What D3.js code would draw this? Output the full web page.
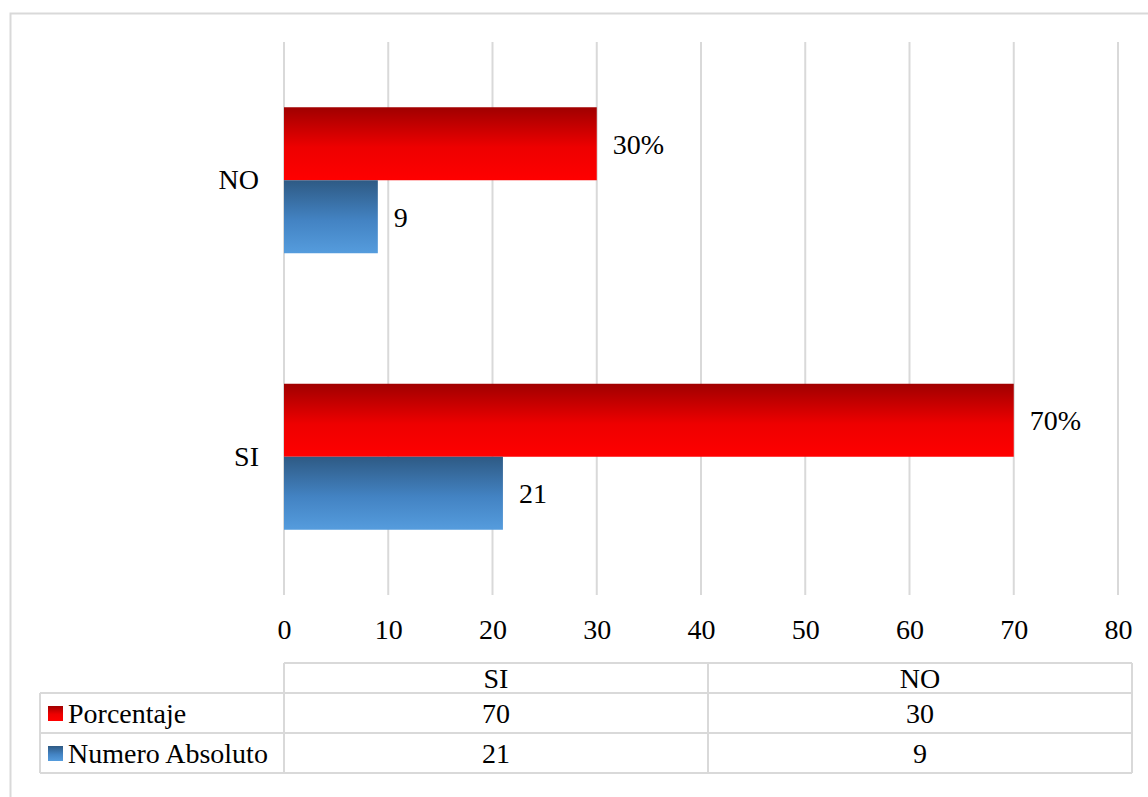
<!DOCTYPE html>
<html>
<head>
<meta charset="utf-8">
<script src="https://cdn.jsdelivr.net/npm/d3@7"></script>
<style>
  html, body { margin: 0; padding: 0; background: #fff; }
  svg { display: block; }
  svg text { font-family: "Liberation Serif", "Times New Roman", serif; }
</style>
</head>
<body>
<svg id="chart" width="1148" height="797"></svg>
<script>
// Categories (top to bottom) and series
const categories = ["NO", "SI"];
const seriesNames = ["Porcentaje", "Numero Absoluto"];
const porcentaje = [30, 70];
const numeroAbsoluto = [9, 21];
const tableColumns = ["SI", "NO"];
const xTicks = [0, 10, 20, 30, 40, 50, 60, 70, 80];

const svg = d3.select("#chart");
const gridColor = "#d9d9d9";
const fontSize = 28;
const serif = "'Liberation Serif', serif";

// Gradients for the bar fills
const defs = svg.append("defs");
function grad(id, stops) {
  const g = defs.append("linearGradient").attr("id", id)
    .attr("x1", 0).attr("y1", 0).attr("x2", 0).attr("y2", 1);
  stops.forEach(s => g.append("stop").attr("offset", s[0]).attr("stop-color", s[1]));
}
grad("gRed", [[0, "#a00000"], [0.55, "#ee0000"], [1, "#ff0000"]]);
grad("gBlue", [[0, "#2e5a84"], [0.55, "#4383c3"], [1, "#559cdd"]]);
const fills = ["url(#gRed)", "url(#gBlue)"];
const values = [porcentaje, numeroAbsoluto];

// Outer chart border
svg.append("rect").attr("x", 10.5).attr("y", 13.5).attr("width", 1160).attr("height", 800)
  .attr("fill", "none").attr("stroke", gridColor).attr("stroke-width", 2);

// Scales
const x = d3.scaleLinear().domain([0, 80]).range([284, 1118]);
const y = d3.scaleBand().domain(categories).range([42, 595]).paddingInner(0.472).paddingOuter(0.236);
const ySub = d3.scaleBand().domain(seriesNames).range([0, y.bandwidth()]);

// Vertical gridlines
svg.append("g").selectAll("line").data(xTicks).join("line")
  .attr("x1", d => x(d)).attr("x2", d => x(d))
  .attr("y1", 42).attr("y2", 595)
  .attr("stroke", gridColor).attr("stroke-width", 2);

// X axis tick labels
const xAxis = d3.axisBottom(x).tickValues(xTicks).tickSize(0).tickPadding(0);
const gx = svg.append("g").attr("transform", "translate(0,629)").call(xAxis)
  .attr("font-family", serif).attr("font-size", fontSize);
gx.select(".domain").remove();
gx.selectAll("text").attr("fill", "#000").attr("y", 0).attr("dy", "0.35em");

// Category labels
const yAxis = d3.axisLeft(y).tickSize(0).tickPadding(25);
const gy = svg.append("g").attr("transform", "translate(284,0)").call(yAxis)
  .attr("font-family", serif).attr("font-size", fontSize);
gy.select(".domain").remove();
gy.selectAll("text").attr("fill", "#000");

// Bars and value labels
seriesNames.forEach((s, si) => {
  const g = svg.append("g").attr("font-family", serif).attr("font-size", fontSize);
  g.selectAll("rect").data(categories).join("rect")
    .attr("x", x(0))
    .attr("y", (c) => y(c) + ySub(s))
    .attr("width", (c, i) => x(values[si][i]) - x(0))
    .attr("height", ySub.bandwidth())
    .attr("fill", fills[si]);
  g.selectAll("text").data(categories).join("text")
    .attr("x", (c, i) => x(values[si][i]) + 16)
    .attr("y", (c) => y(c) + ySub(s) + ySub.bandwidth() / 2)
    .attr("dy", "0.35em")
    .text((c, i) => si === 0 ? values[si][i] + "%" : values[si][i]);
});

// Data table below the chart
const tLeft = 40, tSplit = 284, tRight = 1132;
const rowY = [663, 693, 733, 773];
const colX = d3.scaleBand().domain(tableColumns).range([tSplit, tRight]);
const tg = svg.append("g").attr("stroke", gridColor).attr("stroke-width", 2);
// header row (no legend cell)
tg.append("line").attr("x1", tSplit).attr("x2", tRight).attr("y1", rowY[0]).attr("y2", rowY[0]);
[1, 2, 3].forEach(r => tg.append("line").attr("x1", tLeft).attr("x2", tRight).attr("y1", rowY[r]).attr("y2", rowY[r]));
tg.append("line").attr("x1", tLeft).attr("x2", tLeft).attr("y1", rowY[1]).attr("y2", rowY[3]);
[tSplit, colX("NO"), tRight].forEach(xx =>
  tg.append("line").attr("x1", xx).attr("x2", xx).attr("y1", rowY[0]).attr("y2", rowY[3]));

const tt = svg.append("g").attr("font-family", serif).attr("font-size", fontSize);

// Header labels
tt.selectAll("text.head").data(tableColumns).join("text").attr("class", "head")
  .attr("x", d => colX(d) + colX.bandwidth() / 2)
  .attr("y", (rowY[0] + rowY[1]) / 2).attr("dy", "0.35em")
  .attr("text-anchor", "middle").text(d => d);

// Table rows: legend key + values per column
const tableRows = [porcentaje, numeroAbsoluto];
seriesNames.forEach((s, si) => {
  const cy = (rowY[si + 1] + rowY[si + 2]) / 2;
  tt.append("rect").attr("x", 48).attr("y", cy - 7).attr("width", 15).attr("height", 15)
    .attr("fill", fills[si]);
  tt.append("text").attr("x", 68).attr("y", cy).attr("dy", "0.35em").text(s);
  tableColumns.forEach(col => {
    const ci = categories.indexOf(col);
    tt.append("text").attr("x", colX(col) + colX.bandwidth() / 2).attr("y", cy).attr("dy", "0.35em")
      .attr("text-anchor", "middle").text(tableRows[si][ci]);
  });
});
</script>
</body>
</html>
